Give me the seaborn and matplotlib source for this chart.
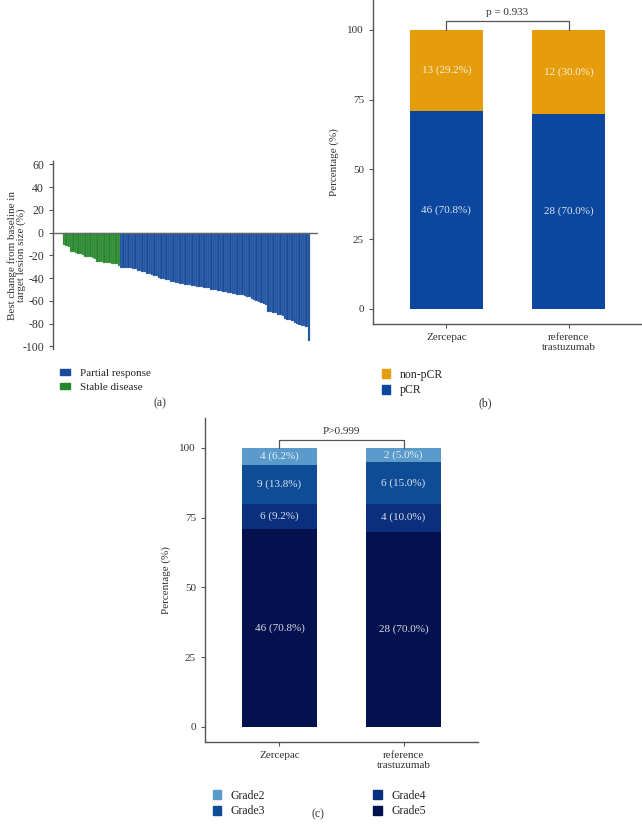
import numpy as np
import pandas as pd
import matplotlib
matplotlib.use("Agg")
import matplotlib.pyplot as plt
from matplotlib.patches import Patch
import matplotlib.colors as mcolors
import seaborn as sns

# ---- data ----
stable_change = [-11, -12, -13, -17, -17, -18, -19, -19, -20, -21, -21, -21,
                 -22, -23, -26, -26, -26, -27, -27, -27, -28, -28, -28, -29]
partial_change = [-31, -31, -31, -31, -31, -32, -32, -34, -34, -35,
                  -35, -36, -36, -37, -38, -38, -40, -41, -41, -42,
                  -42, -43, -43, -44, -44, -45, -45, -46, -46, -46,
                  -47, -47, -48, -48, -48, -49, -49, -49, -50, -50,
                  -50, -51, -51, -52, -52, -53, -53, -54, -54, -55,
                  -55, -55, -56, -57, -57, -58, -59, -60, -61, -62,
                  -63, -64, -70, -70, -71, -71, -72, -72, -73, -76,
                  -77, -77, -78, -79, -80, -81, -82, -82, -83, -95]

groups = ["Zercepac", "reference\ntrastuzumab"]
pcr_pct = [70.8, 70.0]
non_pcr_pct = [29.2, 30.0]
pcr_text = ["46 (70.8%)", "28 (70.0%)"]
non_pcr_text = ["13 (29.2%)", "12 (30.0%)"]

grade_names = ["Grade2", "Grade3", "Grade4", "Grade5"]
grade5_pct = [70.8, 70.0]
grade4_pct = [9.2, 10.0]
grade3_pct = [13.8, 15.0]
grade2_pct = [6.2, 5.0]
grade5_text = ["46 (70.8%)", "28 (70.0%)"]
grade4_text = ["6 (9.2%)", "4 (10.0%)"]
grade3_text = ["9 (13.8%)", "6 (15.0%)"]
grade2_text = ["4 (6.2%)", "2 (5.0%)"]

# ---- style ----
sns.set_theme(style="ticks")
plt.rcParams["font.family"] = ["Liberation Serif", "DejaVu Serif"]
plt.rcParams["axes.unicode_minus"] = False

BLUE_A = "#174c9c"
GREEN_A = "#24862a"
ORANGE = "#e59d0b"
BLUE_B = "#0b479e"
grade_colors = ["#5a9bcc", "#0f4c96", "#0a2f7d", "#03124f"]
SPINE = "#555555"
TXT = "#333333"

W, H = 642, 827
fig = plt.figure(figsize=(W / 100, H / 100), dpi=100)


def px_axes(left, top, right, bottom):
    return fig.add_axes([left / W, 1 - bottom / H, (right - left) / W, (bottom - top) / H])


def style_axes(ax, size=8):
    for s in ["top", "right"]:
        ax.spines[s].set_visible(False)
    for s in ["left", "bottom"]:
        ax.spines[s].set_color(SPINE)
        ax.spines[s].set_linewidth(1.0)
    ax.tick_params(colors=SPINE, labelcolor=TXT, labelsize=size, length=3, width=0.8)


# ---- panel (a): waterfall ----
ax1 = px_axes(53, 161, 318, 349)
wf = pd.DataFrame({
    "change": stable_change + partial_change,
    "response": ["Stable disease"] * len(stable_change) + ["Partial response"] * len(partial_change),
})
wf["idx"] = np.arange(len(wf))
sns.barplot(data=wf, x="idx", y="change", hue="response", dodge=False, width=1.0,
            native_scale=True, saturation=1,
            palette={"Stable disease": GREEN_A, "Partial response": BLUE_A},
            legend=False, ax=ax1)
# thin light seams between neighbouring bars, as in the original figure
for p in ax1.patches:
    fc = np.array(mcolors.to_rgb(p.get_facecolor()))
    p.set_edgecolor(tuple(fc + (1 - fc) * 0.45))
    p.set_linewidth(0.2)
ax1.set_xlim(-4.7, len(wf) + 2.8)
ax1.set_ylim(-102.3, 63)
ax1.set_yticks(range(-100, 61, 20))
ax1.axhline(0, color="#666666", lw=1.0, zorder=3)
style_axes(ax1, size=8.5)
ax1.spines["bottom"].set_visible(False)
ax1.set_xticks([])
ax1.set_xlabel("")
ax1.set_ylabel("Best change from baseline in\ntarget lesion size (%)", fontsize=8, color=TXT,
               linespacing=1.0)
ax1.yaxis.set_label_coords(-0.1, 0.5)

fig.legend(handles=[Patch(color=BLUE_A, label="Partial response"),
                    Patch(color=GREEN_A, label="Stable disease")],
           loc="upper left", bbox_to_anchor=(50 / W, 1 - 359 / H), frameon=False,
           fontsize=8, handlelength=0.9, handleheight=0.5, handletextpad=0.9, labelspacing=0.45)
fig.text(160 / W, 1 - 403 / H, "(a)", ha="center", va="center", fontsize=8.5, color=TXT)


def bracket(ax, top, text_y, text):
    ax.plot([0, 0, 1, 1], [100, top, top, 100], color="#555555", lw=0.9, clip_on=False)
    ax.text(0.5, text_y, text, ha="center", va="center", fontsize=8, color=TXT)


def seg_labels(ax, bottoms, heights, texts):
    for i, (b, h, t) in enumerate(zip(bottoms, heights, texts)):
        ax.text(i, b + h / 2, t, ha="center", va="center", fontsize=8, color="white", alpha=0.85)


# ---- panel (b): pCR stacked bars ----
ax2 = px_axes(373, 0, 642, 324)
totals_b = [p + n for p, n in zip(pcr_pct, non_pcr_pct)]
sns.barplot(x=groups, y=totals_b, color=ORANGE, width=0.6, saturation=1, linewidth=0, ax=ax2)
sns.barplot(x=groups, y=pcr_pct, color=BLUE_B, width=0.6, saturation=1, linewidth=0, ax=ax2)
ax2.set_xlim(-0.6, 1.6)
ax2.set_ylim(-5.4, 110.7)
ax2.set_yticks([0, 25, 50, 75, 100])
style_axes(ax2)
ax2.set_ylabel("Percentage (%)", fontsize=8, color=TXT, labelpad=6)
seg_labels(ax2, [0, 0], pcr_pct, pcr_text)
seg_labels(ax2, pcr_pct, non_pcr_pct, non_pcr_text)
bracket(ax2, 103.2, 106.3, "p = 0.933")

fig.legend(handles=[Patch(color=ORANGE, label="non-pCR"), Patch(color=BLUE_B, label="pCR")],
           loc="upper left", bbox_to_anchor=(371 / W, 1 - 358 / H), frameon=False,
           fontsize=8.5, handlelength=0.7, handleheight=0.8, handletextpad=0.8, labelspacing=0.3)
fig.text(485 / W, 1 - 403 / H, "(b)", ha="center", va="center", fontsize=8.5, color=TXT)

# ---- panel (c): adverse event grades ----
ax3 = px_axes(205, 418, 478, 742)
cum4 = [a + b for a, b in zip(grade5_pct, grade4_pct)]
cum3 = [a + b for a, b in zip(cum4, grade3_pct)]
cum2 = [a + b for a, b in zip(cum3, grade2_pct)]
for vals, col in zip([cum2, cum3, cum4, grade5_pct], grade_colors):
    sns.barplot(x=groups, y=vals, color=col, width=0.6, saturation=1, linewidth=0, ax=ax3)
ax3.set_xlim(-0.6, 1.6)
ax3.set_ylim(-5.4, 110.7)
ax3.set_yticks([0, 25, 50, 75, 100])
style_axes(ax3)
ax3.set_ylabel("Percentage (%)", fontsize=8, color=TXT, labelpad=6)
seg_labels(ax3, [0, 0], grade5_pct, grade5_text)
seg_labels(ax3, grade5_pct, grade4_pct, grade4_text)
seg_labels(ax3, cum4, grade3_pct, grade3_text)
seg_labels(ax3, cum3, grade2_pct, grade2_text)
bracket(ax3, 102.9, 105.8, "P>0.999")

fig.legend(handles=[Patch(color=c, label=n) for c, n in zip(grade_colors, grade_names)],
           loc="upper left", bbox_to_anchor=(202 / W, 1 - 779 / H), ncol=2, frameon=False,
           fontsize=8.5, handlelength=0.7, handleheight=0.8, handletextpad=0.8,
           labelspacing=0.3, columnspacing=9.2)
fig.text(318 / W, 1 - 814 / H, "(c)", ha="center", va="center", fontsize=8.5, color=TXT)

fig.savefig("out.png", dpi=100)
